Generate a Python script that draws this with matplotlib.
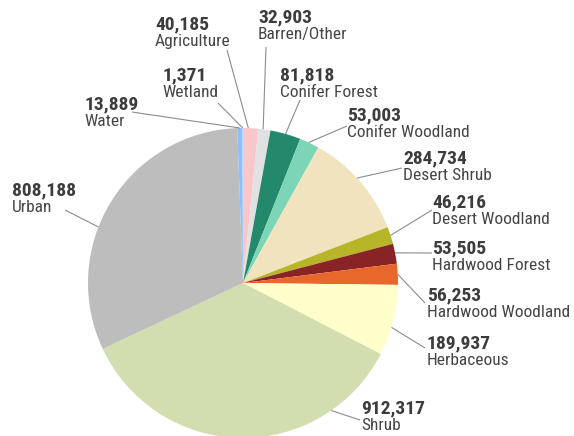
import matplotlib
matplotlib.use("Agg")
import matplotlib.pyplot as plt
from matplotlib import font_manager
import numpy as np

# ---- data ----
categories = ["Agriculture", "Barren/Other", "Conifer Forest", "Conifer Woodland",
              "Desert Shrub", "Desert Woodland", "Hardwood Forest", "Hardwood Woodland",
              "Herbaceous", "Shrub", "Urban", "Water", "Wetland"]
values = [40185, 32903, 81818, 53003, 284734, 46216, 53505, 56253,
          189937, 912317, 808188, 13889, 1371]
colors = ["#F9C6CA", "#E1E1E1", "#23896A", "#7DD5B7", "#F0E3BD", "#B6B628",
          "#8A2326", "#E8672A", "#FFFFCC", "#D2DEAF", "#BDBDBD", "#8EBFF6", "#B5D9FA"]

# ---- layout (pixel coordinates, y from top) ----
W, H = 574, 436
center_px = (243, 283)
radius_px = 155
# label: (text left x, number top y, leader end x, leader end y, position within wedge)
label_layout = {
    "Agriculture":       (155, 15, 227, 50, 0.35),
    "Barren/Other":      (258, 8, 266, 47, 0.40),
    "Conifer Forest":    (280, 66, 300, 100, 0.5),
    "Conifer Woodland":  (347, 106, 347, 126, 0.45),
    "Desert Shrub":      (403, 149, 402, 168, 0.46),
    "Desert Woodland":   (432, 193, 432, 210, 0.5),
    "Hardwood Forest":   (432, 239, 432, 253, 0.46),
    "Hardwood Woodland": (427, 286, 425, 303, 0.5),
    "Herbaceous":        (427, 334, 425, 348, 0.6),
    "Shrub":             (361, 399, 360, 420, 0.22),
    "Urban":             (12, 181, 65, 210, 0.41),
    "Water":             (84, 95, 132, 112, 0.5),
    "Wetland":           (162, 66, 218, 103, 0.5),
}

avail = {f.name for f in font_manager.fontManager.ttflist}
family = "DejaVu Sans"
for cand in ["Roboto Condensed", "Liberation Sans Narrow", "DejaVu Sans Condensed",
             "Open Sans Condensed", "Liberation Sans"]:
    if cand in avail:
        family = cand
        break
plt.rcParams["font.family"] = family

fig = plt.figure(figsize=(W / 100, H / 100), dpi=100)
ax = fig.add_axes([0, 0, 1, 1])

cx, cy = center_px[0], H - center_px[1]
wedges, _ = ax.pie(values, colors=colors, startangle=90, counterclock=False,
                   center=(cx, cy), radius=radius_px,
                   wedgeprops=dict(linewidth=0))
ax.set_xlim(0, W)
ax.set_ylim(0, H)
ax.set_aspect("auto")
ax.axis("off")

for w, name, val in zip(wedges, categories, values):
    tx, ty, lx, ly, frac = label_layout[name]
    t1, t2 = w.theta1, w.theta2
    # clockwise pie: each wedge starts at theta2 and runs down to theta1
    a0 = np.deg2rad(t2 - frac * (t2 - t1))
    ex = cx + radius_px * np.cos(a0)
    ey = cy + radius_px * np.sin(a0)
    ax.plot([lx, ex], [H - ly, ey], color="#8c8c8c", lw=0.8, solid_capstyle="butt")
    ax.text(tx, H - ty, f"{val:,}", fontsize=14, fontweight="bold", color="#3c3c3c",
            ha="left", va="top")
    ax.text(tx, H - ty - 19, name, fontsize=12.5, color="#454545", ha="left", va="top")

fig.savefig("out.png", dpi=100)
